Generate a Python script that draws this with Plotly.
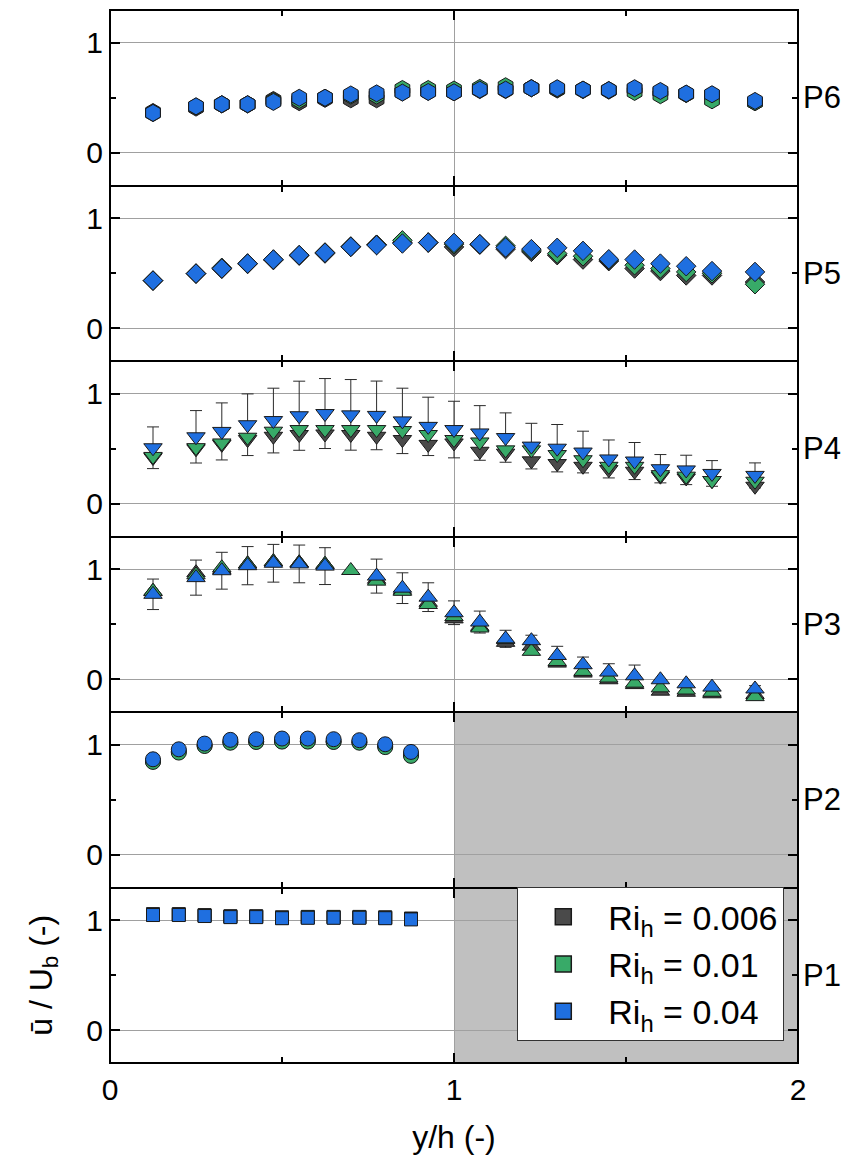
import plotly.graph_objects as go

# ---------------- data ----------------
x_far = [0.125, 0.25, 0.325, 0.4, 0.475, 0.55, 0.625, 0.7, 0.775, 0.85, 0.925, 1.0,
         1.075, 1.15, 1.225, 1.3, 1.375, 1.45, 1.525, 1.6, 1.675, 1.75, 1.875]
x_near = [0.125, 0.2, 0.275, 0.35, 0.425, 0.5, 0.575, 0.65, 0.725, 0.8, 0.875]

series_names = ["Ri<sub>h</sub> = 0.006", "Ri<sub>h</sub> = 0.01", "Ri<sub>h</sub> = 0.04"]
series_colors = ["#4a4a4a", "#38aa68", "#1f6fe0"]
panel_labels = ["P1", "P2", "P3", "P4", "P5", "P6"]

# P1 (squares)
p1_dark = [1.057, 1.057, 1.048, 1.038, 1.038, 1.028, 1.032, 1.032, 1.032, 1.028, 1.017]
p1_green = [1.053, 1.053, 1.044, 1.034, 1.034, 1.024, 1.028, 1.028, 1.028, 1.024, 1.013]
p1_blue = [1.049, 1.049, 1.040, 1.030, 1.030, 1.020, 1.024, 1.024, 1.024, 1.020, 1.009]

# P2 (circles)
p2_dark = [0.85, 0.94, 0.995, 1.025, 1.03, 1.035, 1.035, 1.03, 1.025, 0.99, 0.91]
p2_green = [0.845, 0.93, 0.99, 1.02, 1.027, 1.03, 1.03, 1.027, 1.02, 0.98, 0.90]
p2_blue = [0.869, 0.96, 1.012, 1.046, 1.052, 1.058, 1.058, 1.052, 1.043, 1.006, 0.936]

# P3 (triangle-up)
p3_dark = [0.80, 0.97, 1.0, 1.05, 1.07, 1.06, 1.046, None, 0.91, 0.81, 0.70, 0.549,
           0.48, 0.335, 0.30, 0.146, 0.055, -0.006, -0.05, -0.11, -0.12, -0.134, -0.14]
p3_green = [0.80, 0.95, 1.015, 1.05, 1.07, 1.06, 1.046, 0.99, 0.893, 0.80, 0.68, 0.57,
            0.466, 0.36, 0.253, 0.16, 0.07, 0.01, -0.037, -0.08, -0.10, -0.12, -0.16]
p3_blue = [0.773, 0.925, 0.988, 1.034, 1.056, 1.05, 1.03, None, 0.939, 0.829, 0.747, 0.605,
           0.52, 0.367, 0.35, 0.215, 0.131, 0.064, 0.03, -0.006, -0.043, -0.073, -0.09]
p3_blue_err = [0.139, 0.16, 0.168, 0.174, 0.172, 0.172, 0.168, None, 0.155, 0.14, 0.131, 0.108,
               0.10, 0.078, 0.05, 0.084, 0.07, 0.076, 0.098, 0.0, 0.0, 0.0, 0.03]

# P4 (triangle-down)
p4_dark = [0.42, 0.50, 0.54, 0.584, 0.614, 0.63, 0.635, 0.63, 0.614, 0.584, 0.54, 0.553,
           0.477, 0.46, 0.39, 0.365, 0.34, 0.31, 0.295, 0.25, 0.234, 0.21, 0.158]
p4_green = [0.43, 0.51, 0.553, 0.605, 0.66, 0.675, 0.675, 0.675, 0.675, 0.666, 0.63, 0.584,
            0.562, 0.49, 0.49, 0.447, 0.40, 0.34, 0.34, 0.264, 0.25, 0.21, 0.204]
p4_blue = [0.509, 0.609, 0.658, 0.719, 0.757, 0.801, 0.821, 0.809, 0.804, 0.754, 0.704, 0.675,
           0.644, 0.602, 0.524, 0.505, 0.47, 0.407, 0.388, 0.318, 0.307, 0.275, 0.257]
p4_blue_err = [0.19, 0.239, 0.26, 0.281, 0.295, 0.315, 0.319, 0.322, 0.313, 0.298, 0.266, 0.258,
               0.249, 0.225, 0.208, 0.216, 0.19, 0.173, 0.169, 0.129, 0.134, 0.117, 0.114]

# P5 (diamonds)
p5_dark = [0.433, 0.497, 0.54, 0.585, 0.62, 0.66, 0.68, 0.74, 0.76, 0.78, 0.78, 0.74,
           0.76, 0.72, 0.695, 0.665, 0.625, 0.61, 0.543, 0.52, 0.48, 0.48, 0.42]
p5_green = [0.433, 0.497, 0.55, 0.59, 0.625, 0.665, 0.69, 0.745, 0.76, 0.80, 0.78, 0.765,
            0.765, 0.75, 0.71, 0.68, 0.655, 0.62, 0.573, 0.543, 0.512, 0.50, 0.40]
p5_blue = [0.433, 0.497, 0.543, 0.588, 0.625, 0.665, 0.686, 0.741, 0.756, 0.771, 0.78, 0.777,
           0.765, 0.735, 0.72, 0.732, 0.704, 0.628, 0.625, 0.588, 0.564, 0.52, 0.512]

# P6 (hexagons)
p6_dark = [0.37, 0.41, 0.44, 0.44, 0.48, 0.46, 0.49, 0.486, 0.486, 0.55, 0.555, 0.55,
           0.57, 0.57, 0.587, 0.575, 0.57, 0.565, 0.58, 0.555, 0.535, 0.525, 0.46]
p6_green = [0.36, 0.42, 0.44, 0.44, 0.47, 0.48, 0.50, 0.52, 0.52, 0.58, 0.58, 0.575,
            0.59, 0.605, 0.587, 0.58, 0.574, 0.57, 0.553, 0.523, 0.535, 0.477, 0.46]
p6_blue = [0.362, 0.422, 0.441, 0.441, 0.462, 0.50, 0.50, 0.53, 0.54, 0.547, 0.553, 0.55,
           0.574, 0.574, 0.587, 0.587, 0.574, 0.57, 0.587, 0.562, 0.538, 0.532, 0.471]

panels = [
    dict(x=x_near, ys=[p1_dark, p1_green, p1_blue], err=None, symbol="square", size=13, shade=True),
    dict(x=x_near, ys=[p2_dark, p2_green, p2_blue], err=None, symbol="circle", size=15, shade=True),
    dict(x=x_far, ys=[p3_dark, p3_green, p3_blue], err=p3_blue_err, symbol="triangle-up", size=16, shade=False),
    dict(x=x_far, ys=[p4_dark, p4_green, p4_blue], err=p4_blue_err, symbol="triangle-down", size=16, shade=False),
    dict(x=x_far, ys=[p5_dark, p5_green, p5_blue], err=None, symbol="diamond", size=15, shade=False),
    dict(x=x_far, ys=[p6_dark, p6_green, p6_blue], err=None, symbol="hexagon", size=17, shade=False),
]

FONT = "Arial, Liberation Sans, sans-serif"
fig = go.Figure()
layout = {}
shapes = []
annotations = []
n = len(panels)

for k, p in enumerate(panels):
    xa = "x" if k == 0 else f"x{k+1}"
    ya = "y" if k == 0 else f"y{k+1}"
    xkey = "xaxis" if k == 0 else f"xaxis{k+1}"
    ykey = "yaxis" if k == 0 else f"yaxis{k+1}"
    dom = [k / n, (k + 1) / n]

    if p["err"] is not None:
        fig.add_trace(go.Scatter(
            x=p["x"], y=p["ys"][2], xaxis=xa, yaxis=ya, mode="markers",
            marker=dict(size=1, opacity=0), showlegend=False, hoverinfo="skip",
            error_y=dict(type="data", array=p["err"], symmetric=True,
                         color="#2a2a2a", thickness=1, width=6)))
    for s in range(3):
        fig.add_trace(go.Scatter(
            x=p["x"], y=p["ys"][s], xaxis=xa, yaxis=ya, mode="markers",
            marker=dict(symbol=p["symbol"], size=p["size"], color=series_colors[s],
                        line=dict(color="#1a1a1a", width=1)),
            showlegend=False, name=series_names[s]))

    layout[xkey] = dict(
        domain=[0, 1], anchor=ya, range=[0, 2], tickvals=[0, 1, 2],
        ticktext=["0", "1", "2"], showticklabels=(k == 0),
        ticks="inside", ticklen=10, tickwidth=2, tickcolor="black",
        minor=dict(tickvals=[0.5, 1.5], ticks="inside", ticklen=6, tickwidth=2, tickcolor="black"),
        showline=True, linewidth=1, linecolor="black", mirror="allticks",
        showgrid=True, gridcolor="#a0a0a0", gridwidth=1, zeroline=False,
        tickfont=dict(size=30, family=FONT, color="black"),
    )
    if k != 0:
        layout[xkey]["matches"] = "x"
    layout[ykey] = dict(
        domain=dom, anchor=xa, range=[-0.3, 1.3], tickvals=[0, 1],
        ticks="inside", ticklen=10, tickwidth=2, tickcolor="black",
        minor=dict(tickvals=[0.5], ticks="inside", ticklen=6, tickwidth=2, tickcolor="black"),
        showline=True, linewidth=1, linecolor="black", mirror="allticks",
        showgrid=True, gridcolor="#a0a0a0", gridwidth=1, zeroline=False,
        tickfont=dict(size=30, family=FONT, color="black"),
    )
    if p["shade"]:
        shapes.append(dict(type="rect", xref=xa, yref=f"{ya} domain", x0=1, x1=2, y0=0, y1=1,
                           fillcolor="#c0c0c0", line=dict(width=0), layer="below"))
    annotations.append(dict(text=panel_labels[k], xref="paper", yref="paper", x=1,
                            y=(k + 0.5) / n, xanchor="left", yanchor="middle", xshift=3,
                            showarrow=False, font=dict(size=31, family=FONT, color="black")))

# outer frame
shapes.append(dict(type="rect", xref="paper", yref="paper", x0=0, x1=1, y0=0, y1=1,
                   line=dict(color="black", width=2), fillcolor="rgba(0,0,0,0)", layer="above"))

# legend entries
for s in range(3):
    fig.add_trace(go.Scatter(
        x=[None], y=[None], xaxis="x", yaxis="y", mode="markers", name=series_names[s],
        legendgroup=f"g{s}",
        marker=dict(symbol="square", size=19, color=series_colors[s],
                    line=dict(color="#1a1a1a", width=1.5)),
        showlegend=True))

layout["xaxis"]["title"] = dict(text="y/h (-)", font=dict(size=32, family=FONT, color="black"), standoff=20)
layout["yaxis"]["title"] = dict(text="ū / U<sub>b</sub> (-)", font=dict(size=32, family=FONT, color="black"), standoff=24)

fig.update_layout(
    **layout,
    width=852, height=1165,
    margin=dict(l=110, r=54, t=10, b=102),
    paper_bgcolor="white", plot_bgcolor="white",
    font=dict(family=FONT, color="black", size=28),
    shapes=shapes, annotations=annotations,
    showlegend=True,
    legend=dict(x=0.592, y=0.167, xanchor="left", yanchor="top",
                bgcolor="white", bordercolor="#333333", borderwidth=1,
                font=dict(size=34, family=FONT, color="black"),
                tracegroupgap=0, itemwidth=80),
)

fig.write_html("out.html")
